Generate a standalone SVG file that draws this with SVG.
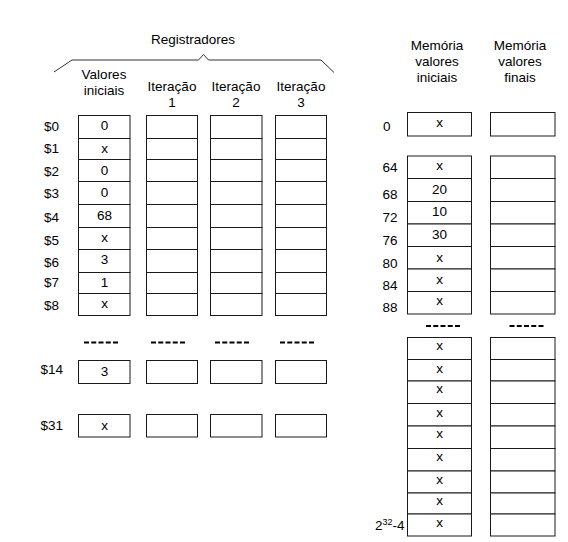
<svg xmlns="http://www.w3.org/2000/svg" width="568" height="542" viewBox="0 0 568 542">
<style>
text{font-family:"Liberation Sans",Arial,sans-serif;font-size:13.5px;fill:#000}
.c{text-anchor:middle}
.cell{fill:#fff;stroke:#1a1a1a;stroke-width:1}
.dash{stroke:#000;stroke-width:2.2;stroke-dasharray:5 2.25;fill:none}
.brace{fill:none;stroke:#333;stroke-width:1}
</style>
<rect width="568" height="542" fill="#fff"/>
<g id="header">
<text class="c" x="193" y="43.5">Registradores</text>
<path class="brace" d="M54,72 L72,60 L198.5,60 L203.5,54.5 L208.5,60 L321,60 L334,72.5"/>
<text class="c" x="104" y="79">Valores</text>
<text class="c" x="104" y="94.5">iniciais</text>
<text class="c" x="172" y="91">Iteração</text>
<text class="c" x="172" y="106.5">1</text>
<text class="c" x="236" y="91">Iteração</text>
<text class="c" x="236" y="106.5">2</text>
<text class="c" x="301" y="91">Iteração</text>
<text class="c" x="301" y="106.5">3</text>
<text class="c" x="437" y="49.5">Memória</text>
<text class="c" x="437" y="66">valores</text>
<text class="c" x="437" y="82">iniciais</text>
<text class="c" x="520" y="49.5">Memória</text>
<text class="c" x="520" y="66">valores</text>
<text class="c" x="520" y="82">finais</text>
</g>
<g id="reg-labels">
<text x="44" y="131">$0</text>
<text x="44" y="153">$1</text>
<text x="44" y="176">$2</text>
<text x="44" y="198">$3</text>
<text x="44" y="222">$4</text>
<text x="44" y="245">$5</text>
<text x="44" y="267">$6</text>
<text x="44" y="287">$7</text>
<text x="44" y="310">$8</text>
<text x="40.5" y="374">$14</text>
<text x="40.5" y="429.5">$31</text>
</g>
<g id="reg-initial">
<rect class="cell" x="78.5" y="115.5" width="51.5" height="23"/>
<rect class="cell" x="78.5" y="138.5" width="51.5" height="21"/>
<rect class="cell" x="78.5" y="159.5" width="51.5" height="22"/>
<rect class="cell" x="78.5" y="181.5" width="51.5" height="23"/>
<rect class="cell" x="78.5" y="204.5" width="51.5" height="23"/>
<rect class="cell" x="78.5" y="227.5" width="51.5" height="22"/>
<rect class="cell" x="78.5" y="249.5" width="51.5" height="23"/>
<rect class="cell" x="78.5" y="272.5" width="51.5" height="21"/>
<rect class="cell" x="78.5" y="293.5" width="51.5" height="22"/>
<rect class="cell" x="78.5" y="360.5" width="51.5" height="23"/>
<rect class="cell" x="78.5" y="414.5" width="51.5" height="22.5"/>
<text class="c" x="104.5" y="129.5">0</text>
<text class="c" x="104.5" y="152.5">x</text>
<text class="c" x="104.5" y="175">0</text>
<text class="c" x="104.5" y="196.5">0</text>
<text class="c" x="104.5" y="220">68</text>
<text class="c" x="104.5" y="241.5">x</text>
<text class="c" x="104.5" y="264">3</text>
<text class="c" x="104.5" y="286.5">1</text>
<text class="c" x="104.5" y="307.5">x</text>
<text class="c" x="104.5" y="376">3</text>
<text class="c" x="104.5" y="430">x</text>
</g>
<g id="reg-iter1">
<rect class="cell" x="146.5" y="115.5" width="51" height="23"/>
<rect class="cell" x="146.5" y="138.5" width="51" height="21"/>
<rect class="cell" x="146.5" y="159.5" width="51" height="22"/>
<rect class="cell" x="146.5" y="181.5" width="51" height="23"/>
<rect class="cell" x="146.5" y="204.5" width="51" height="23"/>
<rect class="cell" x="146.5" y="227.5" width="51" height="22"/>
<rect class="cell" x="146.5" y="249.5" width="51" height="23"/>
<rect class="cell" x="146.5" y="272.5" width="51" height="21"/>
<rect class="cell" x="146.5" y="293.5" width="51" height="22"/>
<rect class="cell" x="146.5" y="360.5" width="51" height="23"/>
<rect class="cell" x="146.5" y="414.5" width="51" height="22.5"/>
</g>
<g id="reg-iter2">
<rect class="cell" x="210.5" y="115.5" width="51.5" height="23"/>
<rect class="cell" x="210.5" y="138.5" width="51.5" height="21"/>
<rect class="cell" x="210.5" y="159.5" width="51.5" height="22"/>
<rect class="cell" x="210.5" y="181.5" width="51.5" height="23"/>
<rect class="cell" x="210.5" y="204.5" width="51.5" height="23"/>
<rect class="cell" x="210.5" y="227.5" width="51.5" height="22"/>
<rect class="cell" x="210.5" y="249.5" width="51.5" height="23"/>
<rect class="cell" x="210.5" y="272.5" width="51.5" height="21"/>
<rect class="cell" x="210.5" y="293.5" width="51.5" height="22"/>
<rect class="cell" x="210.5" y="360.5" width="51.5" height="23"/>
<rect class="cell" x="210.5" y="414.5" width="51.5" height="22.5"/>
</g>
<g id="reg-iter3">
<rect class="cell" x="275.5" y="115.5" width="51" height="23"/>
<rect class="cell" x="275.5" y="138.5" width="51" height="21"/>
<rect class="cell" x="275.5" y="159.5" width="51" height="22"/>
<rect class="cell" x="275.5" y="181.5" width="51" height="23"/>
<rect class="cell" x="275.5" y="204.5" width="51" height="23"/>
<rect class="cell" x="275.5" y="227.5" width="51" height="22"/>
<rect class="cell" x="275.5" y="249.5" width="51" height="23"/>
<rect class="cell" x="275.5" y="272.5" width="51" height="21"/>
<rect class="cell" x="275.5" y="293.5" width="51" height="22"/>
<rect class="cell" x="275.5" y="360.5" width="51" height="23"/>
<rect class="cell" x="275.5" y="414.5" width="51" height="22.5"/>
</g>
<g id="ellipses">
<line class="dash" x1="84" y1="342.5" x2="118" y2="342.5"/>
<line class="dash" x1="151" y1="342.5" x2="185" y2="342.5"/>
<line class="dash" x1="215" y1="342.5" x2="249" y2="342.5"/>
<line class="dash" x1="280" y1="342.5" x2="314" y2="342.5"/>
<line class="dash" x1="426" y1="326" x2="460" y2="326"/>
<line class="dash" x1="509.5" y1="326" x2="543.5" y2="326"/>
</g>
<g id="mem-labels">
<text x="383" y="131">0</text>
<text x="382.5" y="172">64</text>
<text x="382.5" y="198.5">68</text>
<text x="382.5" y="222">72</text>
<text x="382.5" y="244.5">76</text>
<text x="382.5" y="267.5">80</text>
<text x="382.5" y="290">84</text>
<text x="382.5" y="312">88</text>
<text x="375" y="529.5">2<tspan font-size="9" dy="-5">32</tspan><tspan dy="5">-4</tspan></text>
</g>
<g id="mem-initial">
<rect class="cell" x="407.5" y="112.5" width="64" height="23.5"/>
<rect class="cell" x="407.5" y="156" width="64" height="22.5"/>
<rect class="cell" x="407.5" y="178.5" width="64" height="23"/>
<rect class="cell" x="407.5" y="201.5" width="64" height="22.5"/>
<rect class="cell" x="407.5" y="224" width="64" height="22.5"/>
<rect class="cell" x="407.5" y="246.5" width="64" height="22.5"/>
<rect class="cell" x="407.5" y="269" width="64" height="22.5"/>
<rect class="cell" x="407.5" y="291.5" width="64" height="22.5"/>
<rect class="cell" x="407.5" y="337.5" width="64" height="22"/>
<rect class="cell" x="407.5" y="359.5" width="64" height="21.5"/>
<rect class="cell" x="407.5" y="381" width="64" height="22.5"/>
<rect class="cell" x="407.5" y="403.5" width="64" height="22.5"/>
<rect class="cell" x="407.5" y="426" width="64" height="22.5"/>
<rect class="cell" x="407.5" y="448.5" width="64" height="22.5"/>
<rect class="cell" x="407.5" y="471" width="64" height="22"/>
<rect class="cell" x="407.5" y="493" width="64" height="21"/>
<rect class="cell" x="407.5" y="514" width="64" height="22"/>
<text class="c" x="439.5" y="126.5">x</text>
<text class="c" x="439.5" y="169.5">x</text>
<text class="c" x="439.5" y="193.5">20</text>
<text class="c" x="439.5" y="216">10</text>
<text class="c" x="439.5" y="238.5">30</text>
<text class="c" x="439.5" y="261.5">x</text>
<text class="c" x="439.5" y="283.5">x</text>
<text class="c" x="439.5" y="305">x</text>
<text class="c" x="439.5" y="350">x</text>
<text class="c" x="439.5" y="373">x</text>
<text class="c" x="439.5" y="393">x</text>
<text class="c" x="439.5" y="416.5">x</text>
<text class="c" x="439.5" y="438">x</text>
<text class="c" x="439.5" y="460.5">x</text>
<text class="c" x="439.5" y="483.5">x</text>
<text class="c" x="439.5" y="504.5">x</text>
<text class="c" x="439.5" y="526.5">x</text>
</g>
<g id="mem-final">
<rect class="cell" x="490.5" y="112.5" width="64.5" height="23.5"/>
<rect class="cell" x="490.5" y="156" width="64.5" height="22.5"/>
<rect class="cell" x="490.5" y="178.5" width="64.5" height="23"/>
<rect class="cell" x="490.5" y="201.5" width="64.5" height="22.5"/>
<rect class="cell" x="490.5" y="224" width="64.5" height="22.5"/>
<rect class="cell" x="490.5" y="246.5" width="64.5" height="22.5"/>
<rect class="cell" x="490.5" y="269" width="64.5" height="22.5"/>
<rect class="cell" x="490.5" y="291.5" width="64.5" height="22.5"/>
<rect class="cell" x="490.5" y="337.5" width="64.5" height="22"/>
<rect class="cell" x="490.5" y="359.5" width="64.5" height="21.5"/>
<rect class="cell" x="490.5" y="381" width="64.5" height="22.5"/>
<rect class="cell" x="490.5" y="403.5" width="64.5" height="22.5"/>
<rect class="cell" x="490.5" y="426" width="64.5" height="22.5"/>
<rect class="cell" x="490.5" y="448.5" width="64.5" height="22.5"/>
<rect class="cell" x="490.5" y="471" width="64.5" height="22"/>
<rect class="cell" x="490.5" y="493" width="64.5" height="21"/>
<rect class="cell" x="490.5" y="514" width="64.5" height="22"/>
</g>
</svg>
